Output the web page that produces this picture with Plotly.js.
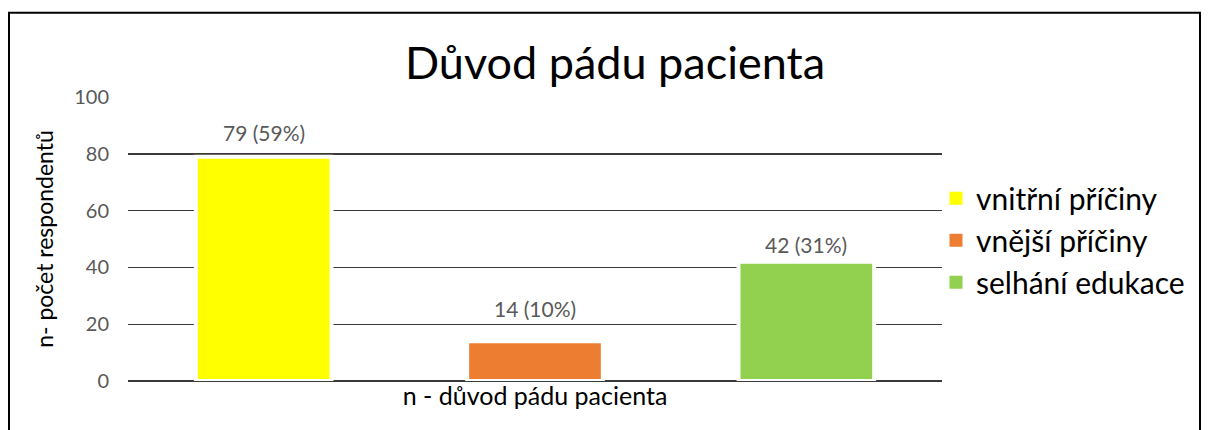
<!DOCTYPE html>
<html>
<head>
<meta charset="utf-8">
<script src="https://cdn.plot.ly/plotly-3.0.1.min.js"></script>
<style>html,body{margin:0;padding:0;background:#fff;}#chart{width:1209px;height:430px;}</style>
</head>
<body>
<div id="chart"></div>
<script>
// Data
const categories = ["vnitřní příčiny", "vnější příčiny", "selhání edukace"];
const values = [79, 14, 42];
const percents = [59, 10, 31];
const yTicks = [0, 20, 40, 60, 80, 100];

// Styling
const colors = ["#FFFF00", "#ED7D31", "#92D050"];
const labelShift = [10, 18, 3];
const FONT = "Lato, 'Open Sans', sans-serif";

const W = 1209, H = 430;
const L = 128, R = 267, T = 96.5, B = 48.5;
const pw = W - L - R, ph = H - T - B;
const px = v => (v - L) / pw;
const py = v => (H - B - v) / ph;

const barTraces = categories.map((c, i) => ({
  type: "bar",
  name: c,
  x: [c],
  y: [values[i]],
  width: 0.5,
  marker: {color: colors[i], line: {color: "#ffffff", width: 4}},
  showlegend: false,
  hoverinfo: "skip"
}));

// legend-only entries (square swatches like the reference)
const legendTraces = categories.map((c, i) => ({
  type: "scatter",
  mode: "markers",
  name: c,
  x: [null],
  y: [null],
  marker: {symbol: "square", size: 13, color: colors[i], line: {width: 0}},
  showlegend: true,
  hoverinfo: "skip"
}));

const annotations = categories.map((c, i) => ({
  x: c, y: values[i], xref: "x", yref: "y",
  text: values[i] + " (" + percents[i] + "%)",
  showarrow: false, yanchor: "bottom", yshift: labelShift[i],
  font: {family: FONT, size: 21, color: "#595959"}
}));

const layout = {
  width: W, height: H,
  margin: {l: L, r: R, t: T, b: B, pad: 0},
  paper_bgcolor: "#ffffff", plot_bgcolor: "#ffffff",
  barmode: "overlay",
  showlegend: true,
  title: {
    text: "Důvod pádu pacienta",
    x: 615 / W, xanchor: "center", xref: "container",
    y: 1 - 63 / H, yanchor: "middle", yref: "container",
    font: {family: FONT, size: 45, color: "#000000"}
  },
  xaxis: {
    type: "category",
    categoryarray: categories,
    showticklabels: false,
    showgrid: false, zeroline: false, showline: false, ticks: "",
    fixedrange: true,
    title: {text: "n - důvod pádu pacienta", standoff: 6,
            font: {family: FONT, size: 25, color: "#000000"}}
  },
  yaxis: {
    range: [0, 100],
    tickvals: yTicks,
    ticktext: yTicks.map(String),
    showgrid: true, gridcolor: "#3a3a3a", gridwidth: 1.4,
    zeroline: true, zerolinecolor: "#3a3a3a", zerolinewidth: 1.4,
    showline: false, ticks: "",
    ticklabelstandoff: 18,
    tickfont: {family: FONT, size: 20, color: "#595959"},
    fixedrange: true,
    title: {text: "n- počet respondentů", standoff: 14,
            font: {family: FONT, size: 23, color: "#000000"}}
  },
  legend: {
    x: px(936), xanchor: "left",
    y: py(172), yanchor: "top",
    bgcolor: "rgba(0,0,0,0)",
    borderwidth: 0,
    font: {family: FONT, size: 30, color: "#000000"},
    traceorder: "normal"
  },
  annotations: annotations,
  shapes: [{
    type: "rect", xref: "paper", yref: "paper",
    x0: px(9), x1: px(1200), y0: py(460), y1: py(12),
    line: {color: "#000000", width: 2},
    fillcolor: "rgba(0,0,0,0)", layer: "above"
  }]
};

Plotly.newPlot("chart", barTraces.concat(legendTraces), layout, {displayModeBar: false, staticPlot: true});
</script>
</body>
</html>
